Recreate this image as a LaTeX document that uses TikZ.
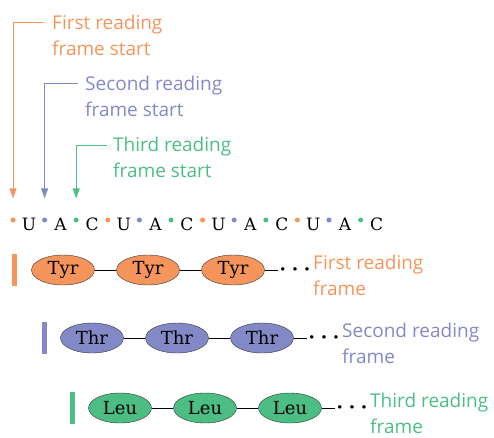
\documentclass[tikz,border=0pt]{standalone}
\usepackage{fontspec}
\newfontfamily\labelfont{Open Sans}
\newfontfamily\basefont{DejaVu Serif}
\usetikzlibrary{arrows.meta,shapes.geometric,positioning}
\definecolor{frameA}{HTML}{F5955B}
\definecolor{frameB}{HTML}{8389C7}
\definecolor{frameC}{HTML}{4CBE84}

\begin{document}
\begin{tikzpicture}[x=1pt,y=-1pt,
    lbl/.style={font=\labelfont\fontsize{19}{26}\selectfont, text=#1, align=left, anchor=west, inner sep=0pt},
    base/.style={font=\basefont\fontsize{17}{20}\selectfont, inner sep=0pt, anchor=base},
    nt/.style={circle, fill=#1, inner sep=0pt, minimum size=5pt},
    amino/.style={ellipse, draw=black!80, fill=#1, minimum width=63pt, minimum height=30pt, inner sep=0pt, font=\basefont\fontsize{18}{20}\selectfont},
    bar/.style={fill=#1, minimum width=5pt, minimum height=32pt, inner sep=0pt},
    pointer/.style={draw=#1, line width=1pt, shorten >=19pt, -{Triangle[length=10pt,width=7pt]}},
    more/.style={inner sep=0pt, font=\fontsize{13}{14}\selectfont}
]
    \useasboundingbox (0,0) rectangle (494,437);

    % Startu uzrakstai
    \node[lbl=frameA] (start1) at (52,35) {First reading\\frame start};
    \node[lbl=frameB] (start2) at (85,96) {Second reading\\frame start};
    \node[lbl=frameC] (start3) at (113,157.5) {Third reading\\frame start};
    \coordinate (s1) at (44,22);
    \coordinate (s2) at (78,83);
    \coordinate (s3) at (107,145);

    % mRNS seka
    \foreach \base/\col [count=\i] in {U/frameA,A/frameB,C/frameC,U/frameA,A/frameB,C/frameC,
                                       U/frameA,A/frameB,C/frameC,U/frameA,A/frameB,C/frameC} {
        \pgfmathsetmacro\xd{13+31.6*(\i-1)}
        \node[nt=\col] (d\i) at (\xd,220) {};
        \node[base] (b\i) at (\xd+16,230) {\base};
    }

    \draw[pointer=frameA] (s1) -| (d1.north);
    \draw[pointer=frameB] (s2) -| (d2.north);
    \draw[pointer=frameC] (s3) -| (d3.north);

    % Nolasisanas ramji
    \foreach \r/\amino/\col/\x/\y/\bx/\name in {1/Tyr/frameA/63/270/14.5/First,
                                                2/Thr/frameB/92/338/44/Second,
                                                3/Leu/frameC/120/408/72/Third} {
        \node[bar=\col] (bar\r) at (\bx,\y) {};
        \foreach \j in {1,2,3}
            \node[amino=\col] (a\r\j) at (\x+85*\j-85,\y) {\amino};
        \node[more] (more\r) at (\x+232,\y) {\textbullet\,\textbullet\,\textbullet};
        \node[lbl=\col] (name\r) at (\x+250,\y+5) {\name\ reading\\frame};
        \draw (a\r1) -- (a\r2) (a\r2) -- (a\r3) (a\r3) -- (more\r);
    }
\end{tikzpicture}
\end{document}
